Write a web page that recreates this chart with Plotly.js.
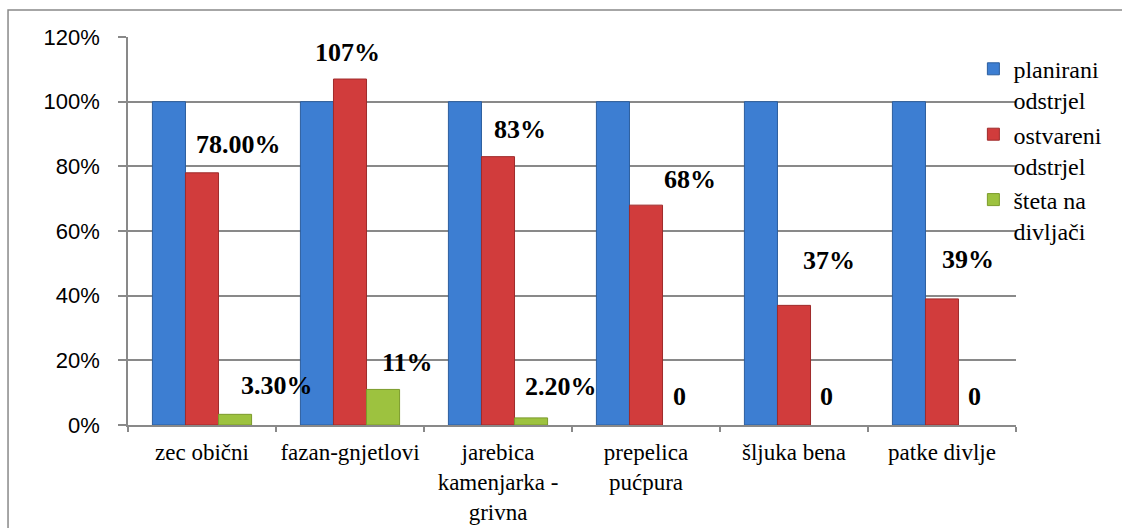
<!DOCTYPE html>
<html>
<head>
<meta charset="utf-8">
<script src="https://cdn.plot.ly/plotly-3.0.1.min.js"></script>
<style>
  #chart svg text { font-family: 'Liberation Serif', 'Times New Roman', serif !important; }
  #chart svg .ytick text { font-family: 'Liberation Sans', Arial, sans-serif !important; }
  .fontprime { position: absolute; left: 0; top: 0; width: 1px; height: 1px; overflow: hidden; color: transparent; font-family: 'Liberation Serif'; font-size: 24px; }
  .fontprime b { font-family: 'Liberation Serif'; }
</style>
</head>
<body style="margin:0">
<div class="fontprime">&nbsp;<b>&nbsp;</b></div>
<div id="chart" style="width:1122px;height:528px"></div>
<script>
// ---- data ----
const categories = ['zec obični', 'fazan-gnjetlovi', 'jarebica<br>kamenjarka -<br>grivna', 'prepelica<br>pućpura', 'šljuka bena', 'patke divlje'];
const seriesNames = ['planirani<br>odstrjel', 'ostvareni<br>odstrjel', 'šteta na<br>divljači'];
const planirani = [1.00, 1.00, 1.00, 1.00, 1.00, 1.00];
const ostvareni = [0.78, 1.07, 0.83, 0.68, 0.37, 0.39];
const steta = [0.033, 0.11, 0.022, 0, 0, 0];
const ostvareniLabels = ['78.00%', '107%', '83%', '68%', '37%', '39%'];
const stetaLabels = ['3.30%', '11%', '2.20%', '0', '0', '0'];

// ---- style ----
const colors = ['#3d7ed2', '#d13c3c', '#9dc23f'];
const lineColors = ['#2c5e9e', '#9f2b2b', '#7b9b2b'];
const barWidthPx = 33;
// manual label placement nudges (px) as in the original
const ostvareniShift = [[36, -28], [-3, -27], [22, -27], [44, -26], [35, -45], [26, -39]];
const stetaShift = [[42, -29], [24, -27], [30, -31], [0, -29], [-1, -29], [-1, -29]];

const FONT_SERIF = 'Liberation Serif';
const FONT_SANS = 'Liberation Sans';
const GRAY = '#898989';

const values = [planirani, ostvareni, steta];
const traces = values.map((v, i) => ({
  type: 'bar',
  name: seriesNames[i],
  x: categories,
  y: v,
  marker: { color: colors[i], line: { color: lineColors[i], width: v.map(val => val > 0 ? 1 : 0) } },
  hoverinfo: 'skip'
}));

const annotations = [];
function addLabels(vals, labels, shifts, seriesIndex) {
  const offset = (seriesIndex - 1) * barWidthPx;
  vals.forEach((v, k) => {
    annotations.push({
      x: categories[k], y: v, xref: 'x', yref: 'y',
      text: '<b>' + labels[k] + '</b>',
      showarrow: false,
      xanchor: 'center', yanchor: 'middle',
      xshift: offset + shifts[k][0],
      yshift: -shifts[k][1],
      font: { family: FONT_SERIF, size: 26, color: '#000000' }
    });
  });
}
addLabels(ostvareni, ostvareniLabels, ostvareniShift, 1);
addLabels(steta, stetaLabels, stetaShift, 2);

const layout = {
  width: 1122, height: 528,
  margin: { l: 128, r: 106, t: 37, b: 103 },
  paper_bgcolor: '#ffffff',
  plot_bgcolor: '#ffffff',
  font: { family: FONT_SERIF, color: '#000000' },
  barmode: 'group',
  bargap: 0.33,
  bargroupgap: 0,
  showlegend: true,
  legend: {
    x: 0.952, y: 0.975, xanchor: 'left', yanchor: 'top',
    bgcolor: 'rgba(0,0,0,0)',
    font: { family: FONT_SERIF, size: 24, color: '#000000' },
    valign: 'top',
    itemwidth: 30,
    traceorder: 'normal'
  },
  xaxis: {
    type: 'category',
    tickson: 'boundaries',
    tickangle: 0,
    automargin: false,
    ticks: 'outside', ticklen: 5, tickcolor: GRAY, tickwidth: 1.5,
    showline: true, linecolor: GRAY, linewidth: 1.5,
    showgrid: false,
    tickfont: { family: FONT_SERIF, size: 23, color: '#000000' },
    ticklabelstandoff: 6,
    fixedrange: true
  },
  yaxis: {
    range: [0, 1.2],
    dtick: 0.2,
    tickformat: '.0%',
    automargin: false,
    ticks: 'outside', ticklen: 8, tickcolor: GRAY, tickwidth: 1.5,
    showline: true, linecolor: GRAY, linewidth: 1.5,
    showgrid: true, gridcolor: GRAY, gridwidth: 1.5,
    zeroline: false,
    tickfont: { family: FONT_SANS, size: 22, color: '#000000' },
    ticklabelstandoff: 14,
    fixedrange: true
  },
  shapes: [{
    type: 'rect', xref: 'paper', yref: 'paper',
    x0: -0.1351, x1: 1.14, y0: -0.28, y1: 1.0696,
    line: { color: GRAY, width: 1.5 }, fillcolor: 'rgba(0,0,0,0)', layer: 'below'
  }],
  annotations: annotations
};

Plotly.newPlot('chart', traces, layout, { displayModeBar: false });
</script>
</body>
</html>
